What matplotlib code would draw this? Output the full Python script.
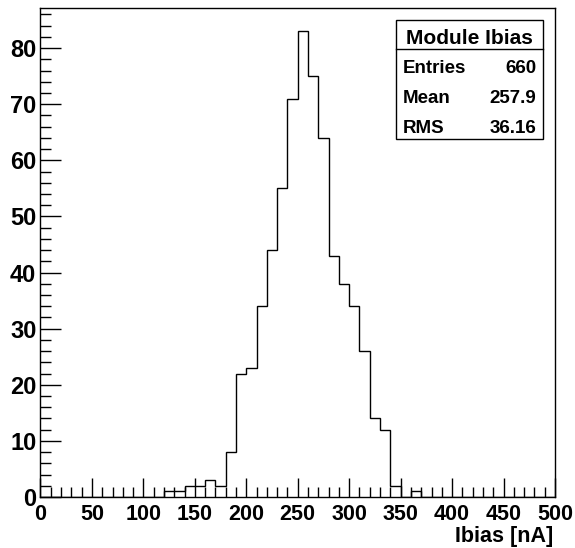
import numpy as np
import matplotlib.pyplot as plt
from matplotlib.ticker import MultipleLocator

# bin edges every 10 nA from 0 to 500
bin_lo = 0
bin_hi = 500
bin_w = 10
# counts for bins starting at 120, 130, ... 360
first_bin = 120
counts_nz = [1, 1, 2, 2, 3, 2, 8, 22, 23, 34, 44, 55, 71, 83, 75, 64,
             43, 38, 34, 26, 14, 12, 2, 0, 1]

stats_title = 'Module Ibias'
stats_names = ['Entries', 'Mean', 'RMS']
stats_vals = ['660', '257.9', '36.16']
xlabel = 'Ibias [nA]'

edges = np.arange(bin_lo, bin_hi + bin_w, bin_w)
counts = np.zeros(len(edges) - 1)
i0 = (first_bin - bin_lo) // bin_w
counts[i0:i0 + len(counts_nz)] = counts_nz

plt.rcParams['font.family'] = ['Liberation Sans', 'DejaVu Sans']
plt.rcParams['font.weight'] = 'bold'

fig = plt.figure(figsize=(5.75, 5.48), dpi=100)
ax = fig.add_axes([0.0704, 0.0931, 0.8948, 0.8923])

ax.stairs(counts, edges, color='black', linewidth=1.0)
ax.set_xlim(bin_lo, bin_hi)
ax.set_ylim(0, max(counts) * 1.05)

ax.xaxis.set_major_locator(MultipleLocator(50))
ax.xaxis.set_minor_locator(MultipleLocator(10))
ax.yaxis.set_major_locator(MultipleLocator(10))
ax.yaxis.set_minor_locator(MultipleLocator(2))
ax.tick_params(which='both', direction='in', top=False, right=False, width=1)
ax.tick_params(axis='x', which='major', length=14, pad=5, labelsize=15.5)
ax.tick_params(axis='x', which='minor', length=7)
ax.tick_params(axis='y', which='major', length=15, pad=3, labelsize=17)
ax.tick_params(axis='y', which='minor', length=8)
for lab in ax.get_xticklabels() + ax.get_yticklabels():
    lab.set_fontweight('bold')
for sp in ax.spines.values():
    sp.set_linewidth(1.0)

ax.set_xlabel(xlabel, fontsize=15.5, fontweight='bold', ha='right', va='top')
ax.xaxis.set_label_coords(0.997, -0.0585)

# stats box
bx0, bx1 = 0.691, 0.977
by0, by1 = 0.732, 0.9755
bsep = 0.916
ax.add_patch(plt.Rectangle((bx0, by0), bx1 - bx0, by1 - by0, transform=ax.transAxes,
                           fill=True, facecolor='white', edgecolor='black',
                           linewidth=1.0, zorder=5))
ax.plot([bx0, bx1], [bsep, bsep], transform=ax.transAxes, color='black',
        linewidth=1.0, zorder=6)
ax.text((bx0 + bx1) / 2, (bsep + by1) / 2 - 0.004, stats_title, transform=ax.transAxes,
        ha='center', va='center_baseline', fontsize=15, fontweight='bold', zorder=7)
row_h = (bsep - by0) / len(stats_names)
for k, (nm, vl) in enumerate(zip(stats_names, stats_vals)):
    yy = bsep - row_h * (k + 0.5) - 0.004
    ax.text(bx0 + 0.013, yy, nm, transform=ax.transAxes, ha='left',
            va='center_baseline', fontsize=13.5, fontweight='bold', zorder=7)
    ax.text(bx1 - 0.013, yy, vl, transform=ax.transAxes, ha='right',
            va='center_baseline', fontsize=13.5, fontweight='bold', zorder=7)

fig.savefig('out.png', dpi=100)
